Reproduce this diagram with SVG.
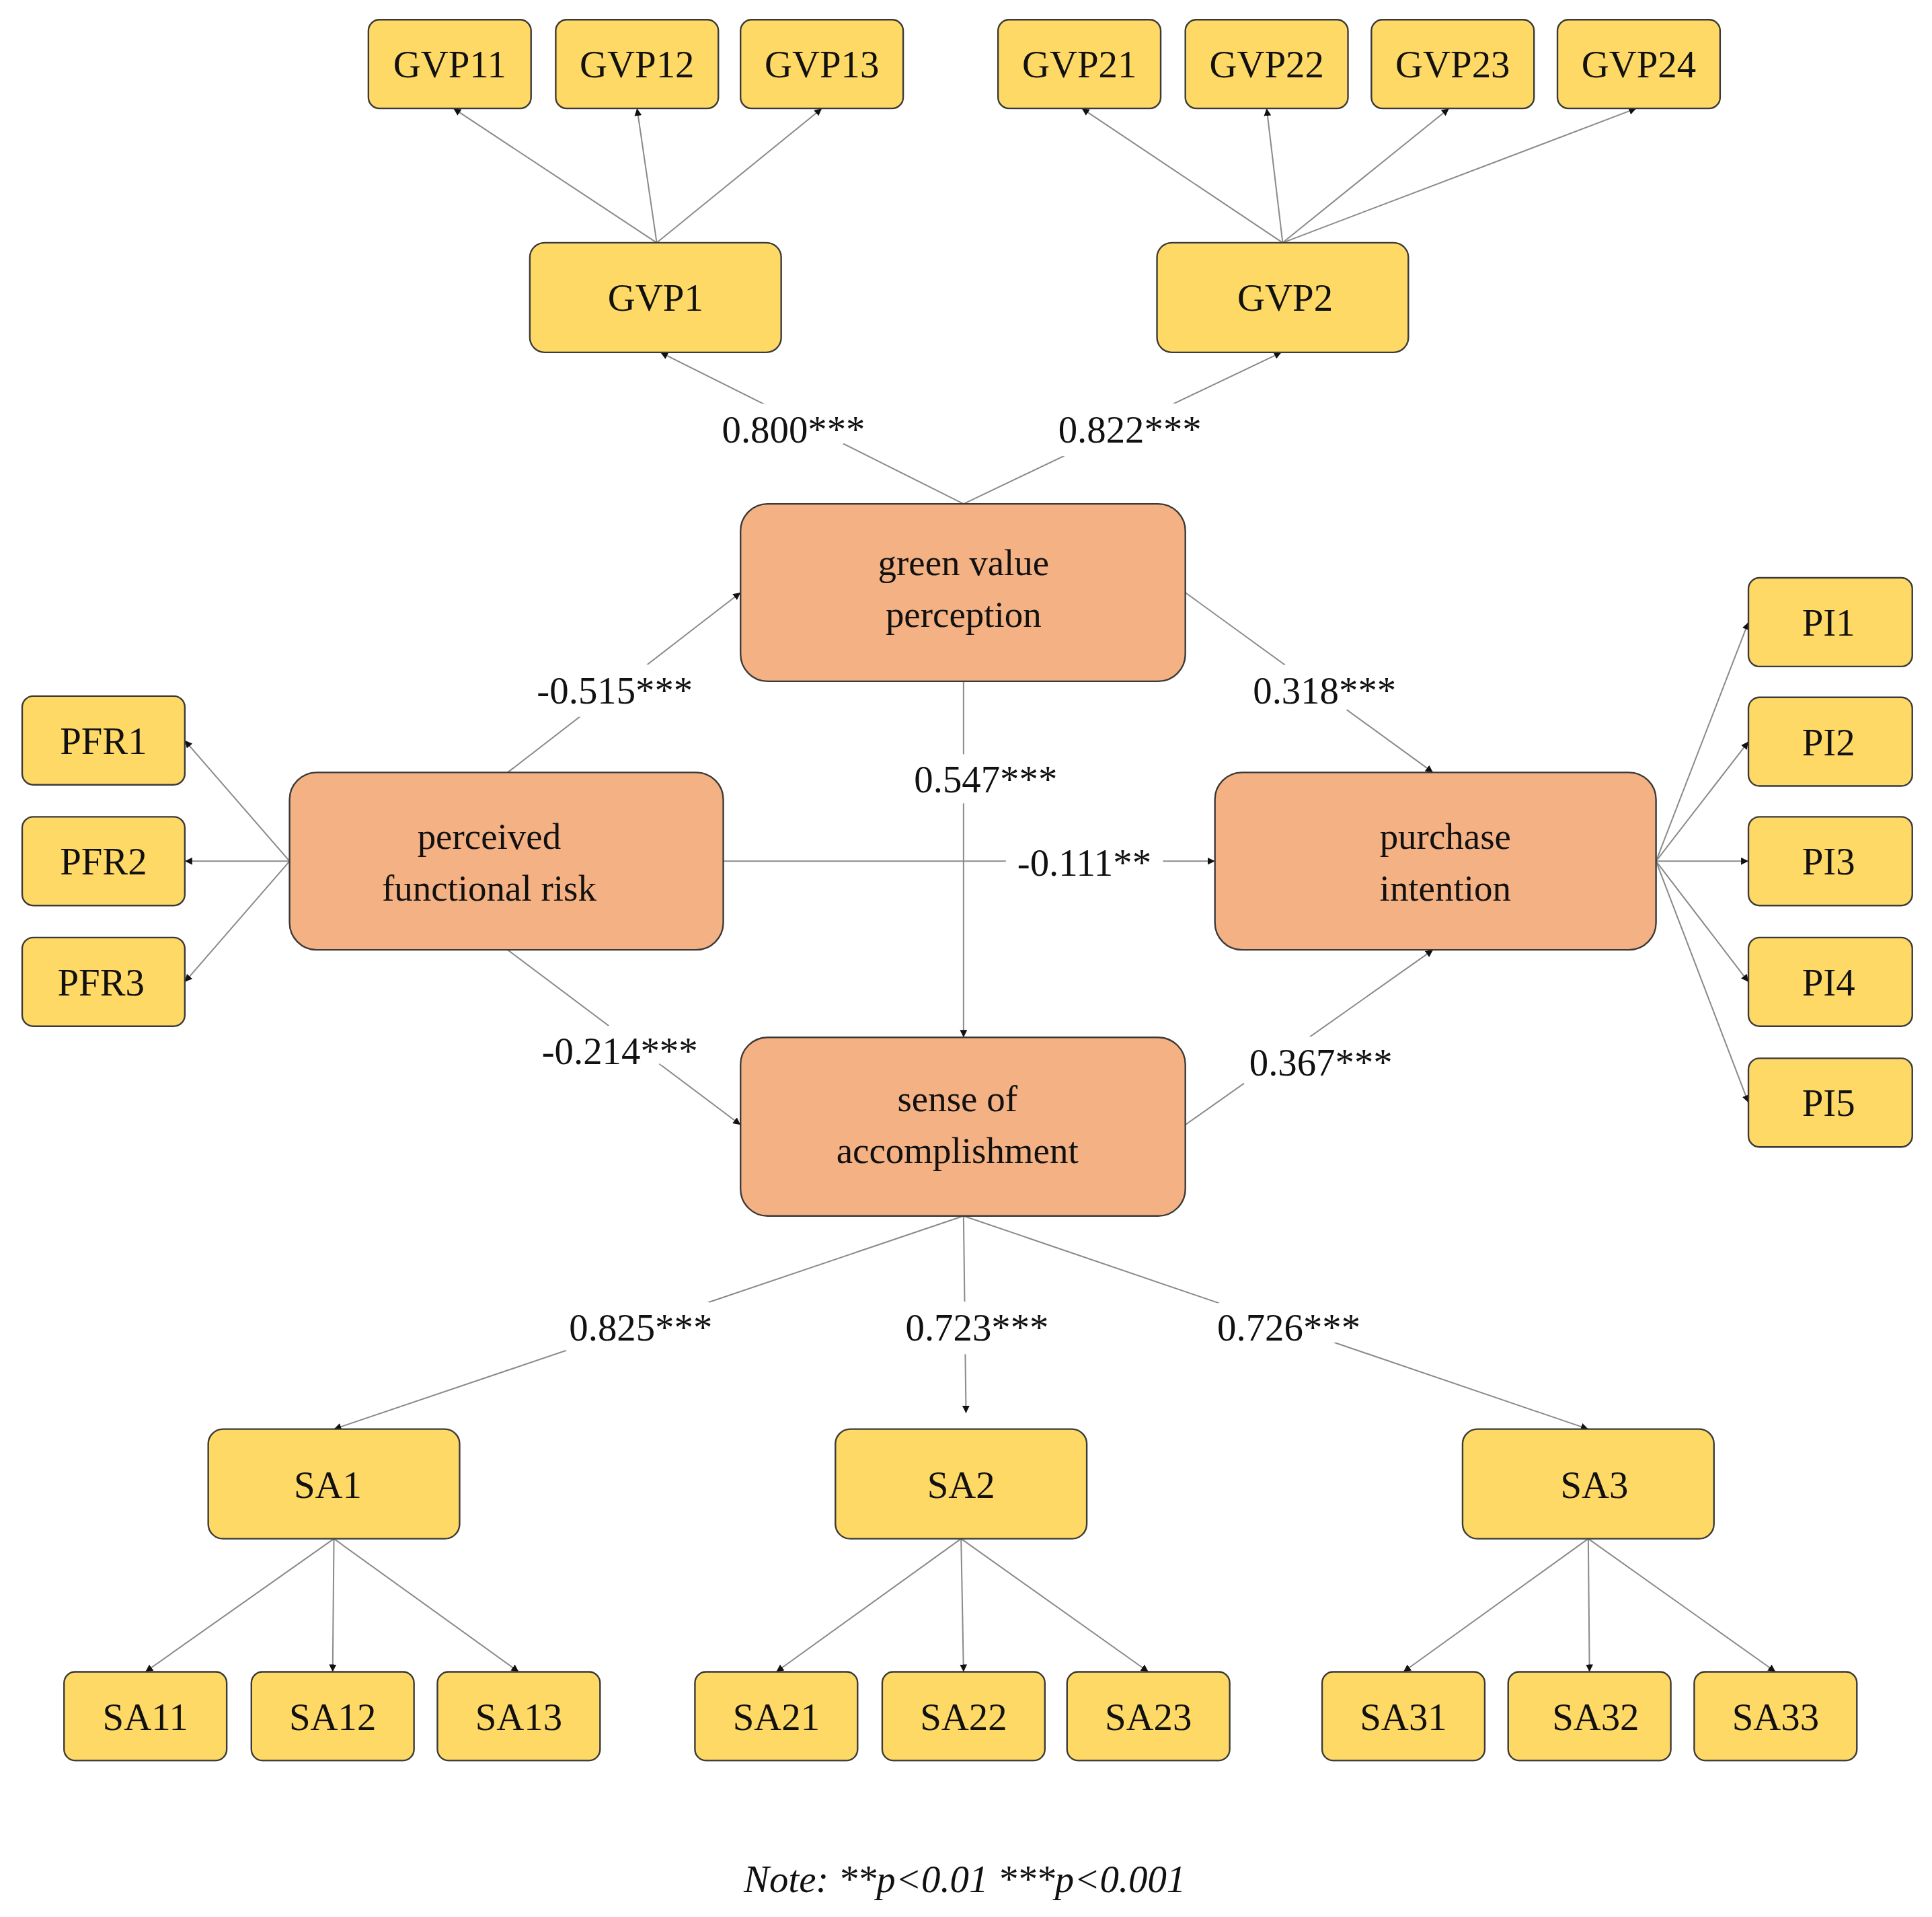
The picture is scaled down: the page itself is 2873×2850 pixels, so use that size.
<svg xmlns="http://www.w3.org/2000/svg" width="2873" height="2850" viewBox="0 0 2873 2850">
<style>
.y{fill:#FFD966;stroke:#3a3a3a;stroke-width:1.3}
.o{fill:#F4B183;stroke:#3a3a3a;stroke-width:1.3}
text{font-family:"Liberation Serif","Times New Roman",serif;fill:#111;text-anchor:middle}
.t{font-size:31px}
.c{font-size:30px}
.l{font-size:31px;stroke:#fff;stroke-width:22;paint-order:stroke;stroke-linejoin:round}
#edges line{stroke:#8a8a8a;stroke-width:1.1;marker-end:url(#a)}
</style>
<defs><marker id="a" viewBox="0 0 10 10" refX="10" refY="5" markerWidth="6" markerHeight="6" orient="auto" markerUnits="userSpaceOnUse"><path d="M0,0L10,5L0,10z" fill="#111"/></marker></defs>
<rect width="2873" height="2850" fill="#fff"/>
<g transform="scale(1.8323,1.8316)">
<g id="edges">
<line x1="533" y1="197" x2="368" y2="88"/><line x1="533" y1="197" x2="517" y2="88"/><line x1="533" y1="197" x2="667" y2="88"/>
<line x1="1041" y1="197" x2="878" y2="88"/><line x1="1041" y1="197" x2="1028" y2="88"/><line x1="1041" y1="197" x2="1176" y2="88"/><line x1="1041" y1="197" x2="1328" y2="88"/>
<line x1="782" y1="409" x2="536" y2="286"/><line x1="782" y1="409" x2="1040" y2="286"/>
<line x1="412" y1="627" x2="601" y2="481"/><line x1="962" y1="481" x2="1163" y2="627"/>
<line x1="782" y1="553" x2="782" y2="842"/><line x1="587" y1="699" x2="986" y2="699"/>
<line x1="412" y1="771" x2="601" y2="913"/><line x1="962" y1="913" x2="1163" y2="771"/>
<line x1="782" y1="987" x2="271" y2="1160"/><line x1="782" y1="987" x2="784" y2="1147"/><line x1="782" y1="987" x2="1289" y2="1160"/>
<line x1="235" y1="699" x2="150" y2="601"/><line x1="235" y1="699" x2="150" y2="699"/><line x1="235" y1="699" x2="150" y2="797"/>
<line x1="1344" y1="699" x2="1419" y2="505"/><line x1="1344" y1="699" x2="1419" y2="602"/><line x1="1344" y1="699" x2="1419" y2="699"/><line x1="1344" y1="699" x2="1419" y2="797"/><line x1="1344" y1="699" x2="1419" y2="895"/>
<line x1="271" y1="1249" x2="118" y2="1357"/><line x1="271" y1="1249" x2="270" y2="1357"/><line x1="271" y1="1249" x2="421" y2="1357"/>
<line x1="780" y1="1249" x2="630" y2="1357"/><line x1="780" y1="1249" x2="782" y2="1357"/><line x1="780" y1="1249" x2="932" y2="1357"/>
<line x1="1289" y1="1249" x2="1139" y2="1357"/><line x1="1289" y1="1249" x2="1290" y2="1357"/><line x1="1289" y1="1249" x2="1441" y2="1357"/>
</g>
<g id="labels">
<text class="l" x="644" y="359">0.800***</text><text class="l" x="917" y="359">0.822***</text>
<text class="l" x="499" y="571">-0.515***</text><text class="l" x="1075" y="571">0.318***</text>
<text class="l" x="800" y="643">0.547***</text><text class="l" x="880" y="711">-0.111**</text>
<text class="l" x="503" y="864">-0.214***</text><text class="l" x="1072" y="873">0.367***</text>
<text class="l" x="520" y="1088">0.825***</text><text class="l" x="793" y="1088">0.723***</text><text class="l" x="1046" y="1088">0.726***</text>
</g>
<g id="GVP11"><rect class="y" x="299" y="16" width="132" height="72" rx="9"/><text class="t" x="365" y="63">GVP11</text></g>
<g id="GVP12"><rect class="y" x="451" y="16" width="132" height="72" rx="9"/><text class="t" x="517" y="63">GVP12</text></g>
<g id="GVP13"><rect class="y" x="601" y="16" width="132" height="72" rx="9"/><text class="t" x="667" y="63">GVP13</text></g>
<g id="GVP21"><rect class="y" x="810" y="16" width="132" height="72" rx="9"/><text class="t" x="876" y="63">GVP21</text></g>
<g id="GVP22"><rect class="y" x="962" y="16" width="132" height="72" rx="9"/><text class="t" x="1028" y="63">GVP22</text></g>
<g id="GVP23"><rect class="y" x="1113" y="16" width="132" height="72" rx="9"/><text class="t" x="1179" y="63">GVP23</text></g>
<g id="GVP24"><rect class="y" x="1264" y="16" width="132" height="72" rx="9"/><text class="t" x="1330" y="63">GVP24</text></g>
<g id="GVP1"><rect class="y" x="430" y="197" width="204" height="89" rx="12"/><text class="t" x="532" y="252">GVP1</text></g>
<g id="GVP2"><rect class="y" x="939" y="197" width="204" height="89" rx="12"/><text class="t" x="1043" y="252">GVP2</text></g>
<g id="GVP"><rect class="o" x="601" y="409" width="361" height="144" rx="22"/><text class="c" x="782" y="467">green value</text><text class="c" x="782" y="509">perception</text></g>
<g id="PFR"><rect class="o" x="235" y="627" width="352" height="144" rx="22"/><text class="c" x="397" y="689">perceived</text><text class="c" x="397" y="731">functional risk</text></g>
<g id="PI"><rect class="o" x="986" y="627" width="358" height="144" rx="22"/><text class="c" x="1173" y="689">purchase</text><text class="c" x="1173" y="731">intention</text></g>
<g id="SA"><rect class="o" x="601" y="842" width="361" height="145" rx="22"/><text class="c" x="777" y="902">sense of</text><text class="c" x="777" y="944">accomplishment</text></g>
<g id="PFR1"><rect class="y" x="18" y="565" width="132" height="72" rx="9"/><text class="t" x="84" y="612">PFR1</text></g>
<g id="PFR2"><rect class="y" x="18" y="663" width="132" height="72" rx="9"/><text class="t" x="84" y="710">PFR2</text></g>
<g id="PFR3"><rect class="y" x="18" y="761" width="132" height="72" rx="9"/><text class="t" x="82" y="808">PFR3</text></g>
<g id="PI1"><rect class="y" x="1419" y="469" width="133" height="72" rx="9"/><text class="t" x="1484" y="516">PI1</text></g>
<g id="PI2"><rect class="y" x="1419" y="566" width="133" height="72" rx="9"/><text class="t" x="1484" y="613">PI2</text></g>
<g id="PI3"><rect class="y" x="1419" y="663" width="133" height="72" rx="9"/><text class="t" x="1484" y="710">PI3</text></g>
<g id="PI4"><rect class="y" x="1419" y="761" width="133" height="72" rx="9"/><text class="t" x="1484" y="808">PI4</text></g>
<g id="PI5"><rect class="y" x="1419" y="859" width="133" height="72" rx="9"/><text class="t" x="1484" y="906">PI5</text></g>
<g id="SA1"><rect class="y" x="169" y="1160" width="204" height="89" rx="12"/><text class="t" x="266" y="1216">SA1</text></g>
<g id="SA2"><rect class="y" x="678" y="1160" width="204" height="89" rx="12"/><text class="t" x="780" y="1216">SA2</text></g>
<g id="SA3"><rect class="y" x="1187" y="1160" width="204" height="89" rx="12"/><text class="t" x="1294" y="1216">SA3</text></g>
<g id="SA11"><rect class="y" x="52" y="1357" width="132" height="72" rx="9"/><text class="t" x="118" y="1404">SA11</text></g>
<g id="SA12"><rect class="y" x="204" y="1357" width="132" height="72" rx="9"/><text class="t" x="270" y="1404">SA12</text></g>
<g id="SA13"><rect class="y" x="355" y="1357" width="132" height="72" rx="9"/><text class="t" x="421" y="1404">SA13</text></g>
<g id="SA21"><rect class="y" x="564" y="1357" width="132" height="72" rx="9"/><text class="t" x="630" y="1404">SA21</text></g>
<g id="SA22"><rect class="y" x="716" y="1357" width="132" height="72" rx="9"/><text class="t" x="782" y="1404">SA22</text></g>
<g id="SA23"><rect class="y" x="866" y="1357" width="132" height="72" rx="9"/><text class="t" x="932" y="1404">SA23</text></g>
<g id="SA31"><rect class="y" x="1073" y="1357" width="132" height="72" rx="9"/><text class="t" x="1139" y="1404">SA31</text></g>
<g id="SA32"><rect class="y" x="1224" y="1357" width="132" height="72" rx="9"/><text class="t" x="1295" y="1404">SA32</text></g>
<g id="SA33"><rect class="y" x="1375" y="1357" width="132" height="72" rx="9"/><text class="t" x="1441" y="1404">SA33</text></g>
<text x="783" y="1536" style="font-size:31px;font-style:italic">Note:  **p&lt;0.01  ***p&lt;0.001</text>
</g>
</svg>
